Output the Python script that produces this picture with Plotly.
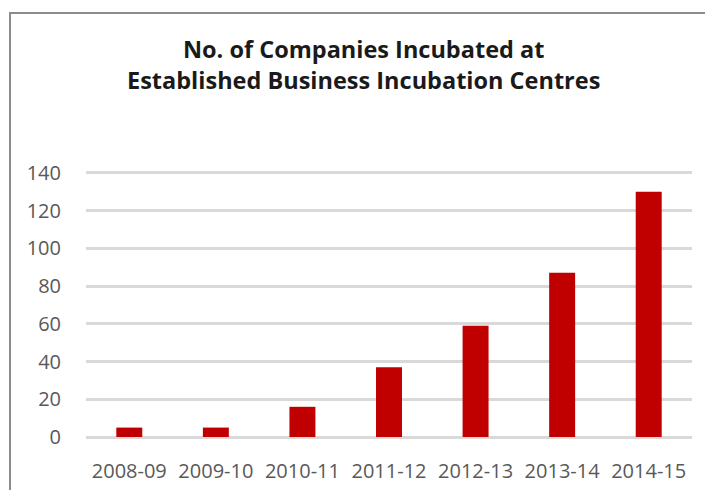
import plotly.graph_objects as go

categories = ["2008-09", "2009-10", "2010-11", "2011-12", "2012-13", "2013-14", "2014-15"]
companies = [5, 5, 16, 37, 59, 87, 130]
y_ticks = [0, 20, 40, 60, 80, 100, 120, 140]
title_text = "No. of Companies Incubated at<br>Established Business Incubation Centres"

W, H = 705, 490
L, R, T, B = 86, 13, 171, 53
pw, ph = W - L - R, H - T - B

fig = go.Figure()
fig.add_trace(go.Bar(x=categories, y=companies, marker=dict(color="#C00000", line=dict(width=0)),
                     hoverinfo="x+y"))

def px_to_paper_x(px):
    return (px - L) / pw

def px_to_paper_y(py):
    return (H - B - py) / ph

fig.update_layout(
    width=W, height=H,
    margin=dict(l=L, r=R, t=T, b=B, pad=0, autoexpand=False),
    paper_bgcolor="white", plot_bgcolor="white",
    bargap=0.70,
    showlegend=False,
    font=dict(family="Open Sans", color="#595959"),
    annotations=[dict(text=title_text, xref="paper", yref="paper",
                      x=px_to_paper_x(363), y=px_to_paper_y(64),
                      xanchor="center", yanchor="middle", showarrow=False,
                      font=dict(family="Open Sans", size=23.5, color="#1a1a1a", weight="bold"))],
    xaxis=dict(type="category", showgrid=False, showline=False, zeroline=False, ticks="",
               tickfont=dict(size=20, color="#595959"), ticklabelstandoff=20, automargin=False,
               fixedrange=True),
    yaxis=dict(range=[0, 141], tickvals=y_ticks, showgrid=True, gridcolor="#D9D9D9", gridwidth=2.5,
               zeroline=True, zerolinecolor="#D9D9D9", zerolinewidth=2.5, showline=False, ticks="",
               tickfont=dict(size=20, color="#595959"), ticklabelstandoff=24, automargin=False,
               fixedrange=True),
    shapes=[dict(type="rect", xref="paper", yref="paper",
                 x0=px_to_paper_x(10), x1=px_to_paper_x(W + 20),
                 y0=px_to_paper_y(H + 20), y1=px_to_paper_y(13),
                 line=dict(color="#8C8C8C", width=2), fillcolor="rgba(0,0,0,0)", layer="below")],
)

fig.write_html("out.html", config={"displayModeBar": False},
               post_script="document.body.style.margin='0';document.body.style.overflow='hidden';")
